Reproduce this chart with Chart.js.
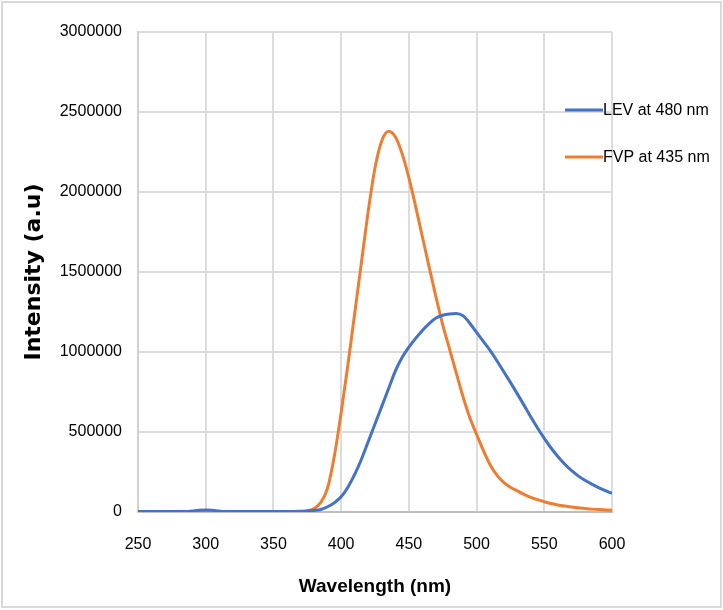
<!DOCTYPE html>
<html>
<head>
<meta charset="utf-8">
<script src="https://cdn.jsdelivr.net/npm/chart.js@4.4.1/dist/chart.umd.min.js"></script>
<style>
html,body{margin:0;padding:0;background:#ffffff;}
#wrap{width:723px;height:610px;position:relative;}
canvas{display:block;}
</style>
</head>
<body>
<div id="wrap"><canvas id="chart" width="723" height="610"></canvas></div>
<script>
// ---- data ----
const wavelengths = [250,255,260,265,270,275,280,285,290,295,300,305,310,315,320,325,330,335,340,345,350,355,360,365,370,375,380,385,390,395,400,405,410,415,420,425,430,435,440,445,450,455,460,465,470,475,480,485,490,495,500,505,510,515,520,525,530,535,540,545,550,555,560,565,570,575,580,585,590,595,600];

const levValues = [3000,3000,3000,3000,3000,3000,3000,3000,
  7000,11000,13000,11000,6000,
  3000,3000,3000,3000,3000,3000,3000,3000,3000,3000,3000,
  4000,6000,10000,16000,33000,58000,95000,155000,235000,330000,440000,550000,660000,770000,880000,965000,1030000,1085000,1135000,1178000,1212000,1230000,1238000,1240000,1226000,1180000,1122000,1066000,1010000,945000,878000,810000,740000,668000,595000,525000,460000,400000,347000,300000,260000,226000,198000,174000,153000,134000,116000];

const fvpValues = [2000,2000,2000,2000,2000,2000,2000,2000,2000,2000,2000,2000,2000,2000,2000,2000,2000,2000,2000,2000,2000,2000,2000,2000,
  3000,7000,22000,60000,150000,350000,620000,920000,1240000,1560000,1880000,2150000,2320000,2380000,2345000,2240000,2090000,1910000,1720000,1530000,1345000,1170000,1020000,870000,720000,590000,485000,385000,295000,230000,185000,155000,132000,110000,92000,77000,64000,53000,44000,37000,31000,26000,22000,18000,15000,13000,11000];

const seriesLabels = ['LEV at 480 nm', 'FVP at 435 nm'];
const seriesColors = ['#4472C4', '#ED7D31'];
const xTickValues = [250,300,350,400,450,500,550,600];
const yTickValues = [0,500000,1000000,1500000,2000000,2500000,3000000];
const xTitle = 'Wavelength (nm)';
const yTitle = 'Intensity (a.u)';

// ---- helpers ----
function toPoints(xs, ys){ return xs.map((x,i)=>({x:x, y:ys[i]})); }

const TICK_FONT = '"Liberation Sans", Arial, sans-serif';

const framePlugin = {
  id: 'frame',
  beforeDraw(chart){
    const ctx = chart.ctx;
    ctx.save();
    ctx.fillStyle = '#ffffff';
    ctx.fillRect(0,0,chart.width,chart.height);
    ctx.strokeStyle = '#d9d9d9';
    ctx.lineWidth = 2;
    ctx.strokeRect(2,2,chart.width-4,chart.height-5);
    ctx.restore();
  }
};

const legendPlugin = {
  id: 'insideLegend',
  afterDatasetsDraw(chart){
    const ctx = chart.ctx;
    const a = chart.chartArea;
    ctx.save();
    chart.data.datasets.forEach((ds, i) => {
      const y = a.top + 78 + i*47;
      ctx.strokeStyle = ds.borderColor;
      ctx.lineWidth = 3;
      ctx.beginPath();
      ctx.moveTo(a.right - 47, y);
      ctx.lineTo(a.right - 9, y);
      ctx.stroke();
      ctx.fillStyle = '#000000';
      ctx.font = '16px ' + TICK_FONT;
      ctx.textAlign = 'left';
      ctx.textBaseline = 'middle';
      ctx.fillText(ds.label, a.right - 9, y + 1);
    });
    ctx.restore();
  }
};

new Chart(document.getElementById('chart'), {
  type: 'line',
  data: {
    datasets: [
      { label: seriesLabels[0], data: toPoints(wavelengths, levValues), borderColor: seriesColors[0], backgroundColor: seriesColors[0], borderWidth: 3, pointRadius: 0, cubicInterpolationMode: 'monotone', fill: false },
      { label: seriesLabels[1], data: toPoints(wavelengths, fvpValues), borderColor: seriesColors[1], backgroundColor: seriesColors[1], borderWidth: 3, pointRadius: 0, cubicInterpolationMode: 'monotone', fill: false }
    ]
  },
  options: {
    responsive: false,
    animation: false,
    layout: { padding: { left: 0, right: 111, top: 32, bottom: 0 } },
    plugins: { legend: { display: false }, tooltip: { enabled: false }, title: { display: false } },
    scales: {
      x: {
        type: 'linear',
        min: 250, max: 600,
        afterBuildTicks(scale){ scale.ticks = xTickValues.map(v=>({value:v})); },
        afterFit(scale){ scale.height = 98; },
        grid: { color: '#dcdcdc', lineWidth: 2, drawTicks: false },
        border: { color: '#bfbfbf', width: 2 },
        ticks: { color: '#000000', padding: 23, maxRotation: 0, font: { family: TICK_FONT, size: 16 }, callback: v => String(v) },
        title: { display: true, text: xTitle, color: '#000000', padding: { top: 0, bottom: 12 }, font: { family: TICK_FONT, size: 19, weight: 'bold' } }
      },
      y: {
        min: 0, max: 3000000,
        afterBuildTicks(scale){ scale.ticks = yTickValues.map(v=>({value:v})); },
        afterFit(scale){ scale.width = 138; },
        grid: { color: '#dcdcdc', lineWidth: 2, drawTicks: false },
        border: { color: '#d0d0d0', width: 2 },
        ticks: { color: '#000000', padding: 16, font: { family: TICK_FONT, size: 16 }, callback: v => String(v) },
        title: { display: true, text: yTitle, color: '#000000', padding: { top: 21, bottom: 0 }, font: { family: '"DejaVu Sans", sans-serif', size: 22, weight: 'bold' } }
      }
    }
  },
  plugins: [framePlugin, legendPlugin]
});
</script>
</body>
</html>
